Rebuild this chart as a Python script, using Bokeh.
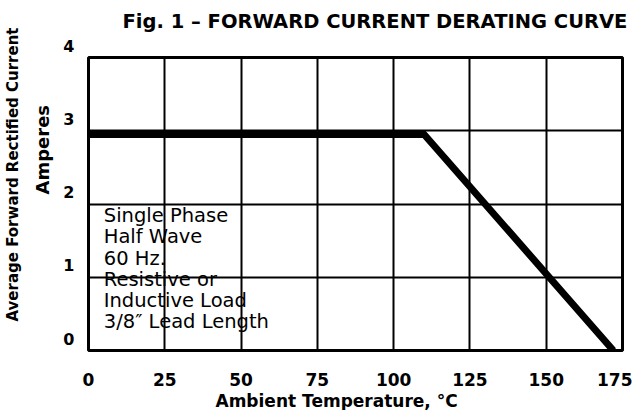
from bokeh.plotting import figure
from bokeh.models import Range1d, FixedTicker, Title, ColumnDataSource
from bokeh.core.properties import value
from bokeh.embed import file_html
from bokeh.resources import INLINE

# Data
curve_temp = [0, 110, 172]
curve_current = [2.95, 2.95, 0]
x_ticks = [0, 25, 50, 75, 100, 125, 150, 175]
y_ticks = [0, 1, 2, 3, 4]
note_lines = ["Single Phase", "Half Wave", "60 Hz.", "Resistive or",
              "Inductive Load", "3/8\u2033 Lead Length"]
title_text = "Fig. 1 \u2013  FORWARD CURRENT DERATING CURVE"
x_label = "Ambient Temperature, \u00b0C"
y_label_1 = "Average Forward Rectified Current"
y_label_2 = "Amperes"

BOLD = "DejaVu Sans"

p = figure(width=632, height=410, output_backend="svg", toolbar_location=None,
           x_range=Range1d(0, 175), y_range=Range1d(0, 4),
           min_border_left=88, min_border_right=10, min_border_top=57,
           min_border_bottom=58)

p.title.text = title_text + "\n\u00a0"
p.title.align = "left"
p.title.text_font = BOLD
p.title.text_font_size = "19.5px"
p.title.text_font_style = "bold"
p.title.text_color = "black"
p.title.offset = 34
p.title.standoff = 4

p.outline_line_color = "black"
p.outline_line_width = 3
p.background_fill_color = "white"
p.border_fill_color = "white"

p.xaxis.ticker = FixedTicker(ticks=x_ticks)
p.yaxis.ticker = FixedTicker(ticks=y_ticks)
p.yaxis.major_label_overrides = {t: f"{t}\n\u00a0" for t in y_ticks}
for ax in (p.xaxis, p.yaxis):
    ax.axis_line_color = None
    ax.major_tick_line_color = None
    ax.minor_tick_line_color = None
    ax.major_label_text_font = BOLD
    ax.major_label_text_font_style = "bold"
    ax.major_label_text_color = "black"
p.xaxis.major_label_text_font_size = "17px"
p.yaxis.major_label_text_font_size = "16px"
p.xaxis.major_label_standoff = 16
p.yaxis.major_label_standoff = 8

p.add_layout(Title(text=x_label, align="left", offset=127, standoff=0,
                   text_font=BOLD, text_font_size="17px", text_font_style="bold",
                   text_color="black"), "below")

p.add_layout(Title(text=y_label_2, align="left", offset=156, standoff=16,
                   text_font=BOLD, text_font_size="18px", text_font_style="bold",
                   text_color="black"), "left")
p.add_layout(Title(text=y_label_1, align="left", offset=29, standoff=0,
                   text_font=BOLD, text_font_size="15px", text_font_style="bold",
                   text_color="black"), "left")

p.xgrid.ticker = FixedTicker(ticks=x_ticks[1:-1])
p.ygrid.ticker = FixedTicker(ticks=y_ticks[1:-1])
p.grid.grid_line_color = "black"
p.grid.grid_line_width = 2
p.grid.grid_line_alpha = 1

p.line(curve_temp, curve_current, line_color="black", line_width=7,
       line_join="miter")

src = ColumnDataSource(dict(x=[5] * len(note_lines),
                            y=[1.84 - 0.29 * i for i in range(len(note_lines))],
                            t=note_lines))
p.text(x="x", y="y", text="t", source=src, text_font=value("DejaVu Sans"),
       text_font_size="19.5px", text_baseline="middle", text_color="black")

open("out.html", "w").write(file_html(p, INLINE))
